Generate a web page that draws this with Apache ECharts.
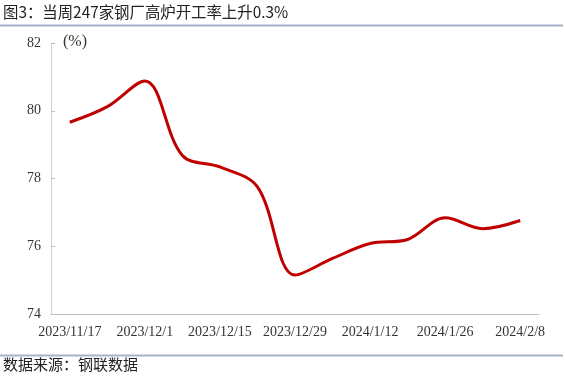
<!DOCTYPE html>
<html>
<head>
<meta charset="utf-8">
<script src="https://cdn.jsdelivr.net/npm/echarts@6/dist/echarts.min.js"></script>
<style>
html,body{margin:0;padding:0;background:#fff;}
#chart{width:565px;height:379px;}
</style>
</head>
<body>
<div id="chart"></div>
<script>
const titleText = '图3：当周247家钢厂高炉开工率上升0.3%';
const sourceText = '数据来源：钢联数据';
const unitText = '(%)';
const categories = ['2023/11/17','2023/11/24','2023/12/1','2023/12/8','2023/12/15','2023/12/22','2023/12/29','2024/1/5','2024/1/12','2024/1/19','2024/1/26','2024/2/2','2024/2/8'];
const values = [79.66, 80.12, 80.88, 78.68, 78.34, 77.75, 75.15, 75.64, 76.08, 76.2, 76.84, 76.52, 76.76];
const yTicks = [74, 76, 78, 80, 82];

const chart = echarts.init(document.getElementById('chart'), null, {renderer:'canvas'});
const serif = '"Liberation Serif", "DejaVu Serif", serif';
chart.setOption({
  animation: false,
  backgroundColor: '#fff',
  grid: {left: 51, right: 26, top: 43, bottom: 65, containLabel: false},
  xAxis: {
    type: 'category',
    data: categories,
    boundaryGap: true,
    axisLine: {lineStyle: {color: '#bfbfbf', width: 1}},
    axisTick: {inside: true, length: 6, lineStyle: {color: '#bfbfbf'}, interval: function (i) { return i > 0 && i % 3 === 0; }},
    axisLabel: {interval: 1, margin: 11, color: '#333', fontFamily: serif, fontSize: 14}
  },
  yAxis: {
    type: 'value',
    min: yTicks[0],
    max: yTicks[yTicks.length - 1],
    interval: 2,
    axisLine: {show: true, lineStyle: {color: '#d0d0d0', width: 1}},
    axisTick: {show: true, inside: true, length: 4, lineStyle: {color: '#bfbfbf'}},
    axisLabel: {margin: 10, color: '#333', fontFamily: serif, fontSize: 14},
    splitLine: {show: false}
  },
  graphic: [
    {type: 'text', left: 3, top: 4, style: {text: titleText, fontSize: 15.4, fontFamily: '"Noto Sans CJK SC", sans-serif', fill: '#222'}},
    {type: 'line', shape: {x1: 0, y1: 25.5, x2: 563, y2: 25.5}, style: {stroke: '#a5b3c8', lineWidth: 2}},
    {type: 'text', left: 63, top: 34, style: {text: unitText, fontSize: 16, fontFamily: serif, fill: '#333'}},
    {type: 'line', shape: {x1: 0, y1: 355.5, x2: 563, y2: 355.5}, style: {stroke: '#a5b3c8', lineWidth: 2}},
    {type: 'text', left: 3, top: 357, style: {text: sourceText, fontSize: 15, fontFamily: '"Noto Sans CJK SC", sans-serif', fill: '#222'}}
  ],
  series: [{
    type: 'line',
    data: values,
    smooth: 0.35,
    symbol: 'none',
    lineStyle: {color: '#c00000', width: 3}
  }]
});
</script>
</body>
</html>
